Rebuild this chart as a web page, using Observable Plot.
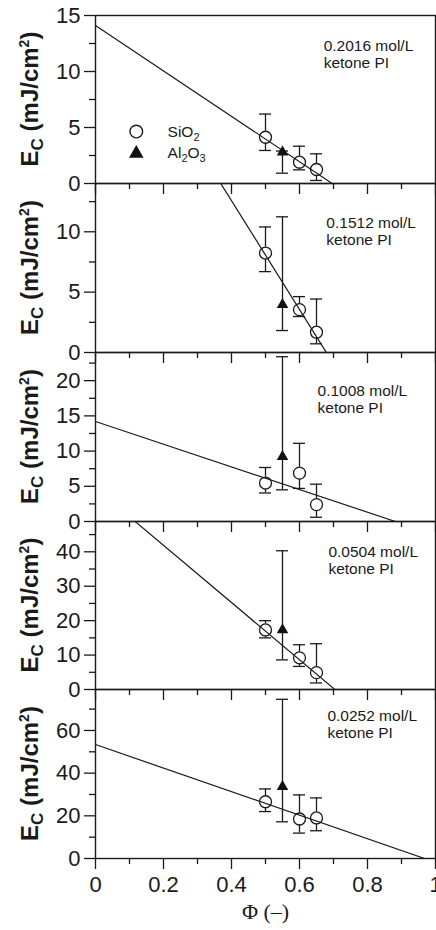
<!DOCTYPE html>
<html><head><meta charset="utf-8">
<script src="https://cdn.jsdelivr.net/npm/d3@7"></script>
<script src="https://cdn.jsdelivr.net/npm/@observablehq/plot@0.6"></script>
<style>
body{margin:0;background:#fff}
#chart{position:relative;width:436px;height:930px}
#chart svg{position:absolute;left:0;overflow:visible}
</style>
</head><body><div id="chart"></div>
<script>
// ---- data ----
const concentrations = ["0.2016", "0.1512", "0.1008", "0.0504", "0.0252"];
const yMax = [15, 14, 24, 48.8, 79.2];
const yTicks = [[0,5,10,15],[0,5,10],[0,5,10,15,20],[0,10,20,30,40],[0,20,40,60]];
const yMinor = [[2.5,7.5,12.5],[2.5,7.5,12.5],[2.5,7.5,12.5,17.5,22.5],[5,15,25,35,45],[10,30,50,70]];
const xTicks = [0,0.2,0.4,0.6,0.8,1];
const xMinor = [0.1,0.3,0.5,0.7,0.9];

const sio2Phi = [0.5, 0.6, 0.65];
const sio2E  = [[4.13,1.9,1.25],[8.24,3.55,1.68],[5.46,6.87,2.4],[17.3,9.2,4.9],[26.6,18.5,19.0]];
const sio2Hi = [[6.2,3.33,2.65],[10.4,4.63,4.43],[7.67,11.1,5.3],[20.0,13.0,13.3],[32.6,29.8,28.4]];
const sio2Lo = [[2.95,1.22,0.27],[6.7,2.98,0.72],[4.05,4.7,0.6],[15.0,6.7,1.9],[22.0,11.9,13.0]];

const al2o3Phi = 0.55;
const al2o3E  = [2.8, 3.97, 9.2, 17.3, 33.7];
const al2o3Hi = [2.9, 11.24, 23.4, 40.3, 74.6];
const al2o3Lo = [0.92, 1.82, 4.5, 8.6, 17.2];

const fitIntercept = [14.1, 30.6, 14.2, 58.5, 53.4];
const fitZero = [0.696, 0.679, 0.882, 0.704, 0.968];

const notePhi = [0.671, 0.679, 0.653, 0.685, 0.682];
const noteE = [12.9, 11.3, 19.5, 42.0, 70.3];

const legendNames = [["SiO", "2"], ["Al", "2", "O", "3"]];
const legendPhi = 0.12;
const legendTextPhi = 0.212;
const legendE = [4.64, 2.68];
const xLabel = "Φ (–)";

// ---- layout ----
const panelTop = [15, 183, 352, 521, 689];
const panelBottom = 858;
const ink = "#1a1a1a";
const chart = document.getElementById("chart");

for (let i = 0; i < 5; i++) {
  const last = i === 4;
  const ph = (i < 4 ? panelTop[i + 1] : panelBottom) - panelTop[i];
  const mt = 15, mb = last ? 72 : 15;
  const sio2 = sio2Phi.map((p, j) => ({phi: p, e: sio2E[i][j], hi: sio2Hi[i][j], lo: sio2Lo[i][j]}));
  const al = [{phi: al2o3Phi, e: al2o3E[i], hi: al2o3Hi[i], lo: al2o3Lo[i]}];
  const fit = [{phi: 0, e: fitIntercept[i]}, {phi: fitZero[i], e: 0}];
  const note = [{phi: notePhi[i], e: noteE[i], t: concentrations[i] + " mol/L\nketone PI"}];
  const legend = i === 0 ? legendNames.map((n, k) => ({phi: legendPhi, tphi: legendTextPhi, e: legendE[k], name: n.join("")})) : [];

  const plot = Plot.plot({
    width: 436, height: ph + mt + mb,
    marginLeft: 95, marginRight: 1, marginTop: mt, marginBottom: mb,
    style: {background: "transparent", overflow: "visible", fontFamily: "'Liberation Sans', Arial, sans-serif", fontSize: "22px", color: ink},
    x: {domain: [0, 1]},
    y: {domain: [0, yMax[i]]},
    marks: [
      Plot.axisY({ticks: yTicks[i], tickSize: 11, tickPadding: 4, tickFormat: d => String(d), label: null, strokeWidth: 1.3}),
      Plot.axisY({ticks: yMinor[i], tickSize: 6, tickFormat: () => null, label: null, strokeWidth: 1.3}),
      Plot.axisX({ticks: xTicks, tickSize: 11, tickPadding: 7, tickFormat: last ? d => String(d) : () => null, label: null, strokeWidth: 1.3}),
      Plot.axisX({ticks: xMinor, tickSize: 6, tickFormat: () => null, label: null, strokeWidth: 1.3}),
      Plot.line(fit, {x: "phi", y: "e", stroke: ink, strokeWidth: 1.2, clip: true}),
      // SiO2 error bars (split around hollow circles)
      Plot.ruleX(sio2, {x: "phi", y1: "hi", y2: "e", insetBottom: 6, stroke: ink, strokeWidth: 1.3}),
      Plot.ruleX(sio2, {x: "phi", y1: "e", y2: "lo", insetTop: 6, stroke: ink, strokeWidth: 1.3}),
      Plot.ruleY(sio2, {y: "hi", x1: "phi", x2: "phi", insetLeft: -6, insetRight: -6, stroke: ink, strokeWidth: 1.3}),
      Plot.ruleY(sio2, {y: "lo", x1: "phi", x2: "phi", insetLeft: -6, insetRight: -6, stroke: ink, strokeWidth: 1.3}),
      // Al2O3 error bars
      Plot.ruleX(al, {x: "phi", y1: "hi", y2: "lo", stroke: ink, strokeWidth: 1.3}),
      Plot.ruleY(al, {y: "hi", x1: "phi", x2: "phi", insetLeft: -6, insetRight: -6, stroke: ink, strokeWidth: 1.3}),
      Plot.ruleY(al, {y: "lo", x1: "phi", x2: "phi", insetLeft: -6, insetRight: -6, stroke: ink, strokeWidth: 1.3}),
      Plot.dot(sio2, {x: "phi", y: "e", r: 6, stroke: ink, fill: "none", strokeWidth: 1.3}),
      Plot.dot(al, {x: "phi", y: "e", symbol: "triangle", r: 4.3, fill: "#111", stroke: "none"}),
      // legend (panel 1 only)
      Plot.dot(legend.slice(0, 1), {x: "phi", y: "e", r: 6.3, fill: "none", stroke: ink, strokeWidth: 1.4}),
      Plot.dot(legend.slice(1, 2), {x: "phi", y: "e", symbol: "triangle", r: 5.4, fill: "#111", stroke: "none"}),
      Plot.text(legend, {x: "tphi", y: "e", text: "name", textAnchor: "start", fontSize: 15.5, fill: ink}),
      Plot.text(note, {x: "phi", y: "e", text: "t", textAnchor: "start", lineAnchor: "top", fontSize: 15.5, lineHeight: 1.1, fill: ink}),
      Plot.frame({stroke: ink, strokeWidth: 1.4}),
      last ? Plot.text([xLabel], {text: d => d, frameAnchor: "bottom", dy: 60, fontSize: 22, fontFamily: "'Liberation Serif', serif", fill: ink}) : null
    ]
  });
  plot.style.top = (panelTop[i] - mt) + "px";
  chart.appendChild(plot);

  const svg = d3.select(plot);
  const cy = mt + ph / 2;
  const t = svg.append("text")
    .attr("transform", `translate(38,${cy}) rotate(-90)`)
    .attr("text-anchor", "middle")
    .attr("font-weight", "bold")
    .attr("font-size", 24)
    .attr("font-family", "'Liberation Sans', Arial, sans-serif")
    .attr("fill", ink);
  t.append("tspan").text("E");
  t.append("tspan").attr("font-size", 17).attr("dy", 5).text("C");
  t.append("tspan").attr("dy", -5).text(" (mJ/cm");
  t.append("tspan").attr("font-size", 14).attr("dy", -9).text("2");
  t.append("tspan").attr("dy", 9).text(")");

  // subscripts in legend labels
  legendNames.forEach(parts => {
    const full = parts.join("");
    svg.selectAll("text").filter(function() { return this.textContent === full; }).each(function() {
      const el = d3.select(this);
      el.text(null);
      parts.forEach((p, m) => {
        const ts = el.append("tspan").text(p);
        if (m % 2 === 1) ts.attr("font-size", 11).attr("dy", 4);
        else if (m > 0) ts.attr("dy", -4);
      });
    });
  });
}
</script>
</body></html>
